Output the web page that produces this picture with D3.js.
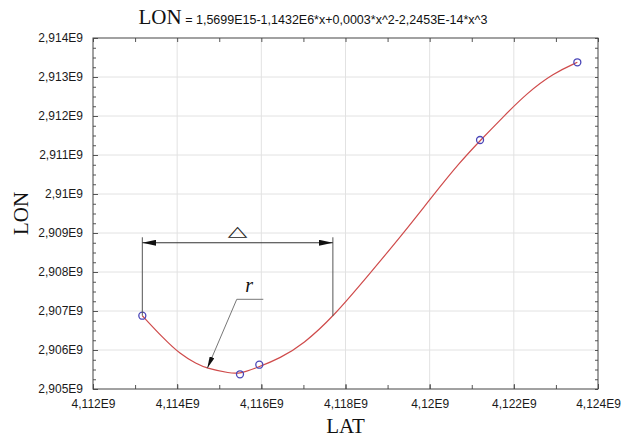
<html>
<head>
<meta charset="utf-8">
<style>
  body { margin: 0; background: #fff; }
</style>
</head>
<body>
<svg id="container" width="622" height="437"></svg>
<script src="https://cdn.jsdelivr.net/npm/d3@7"></script>
<script>
// measured points (LAT, LON)
const pointLat = [4.113172e9, 4.115493e9, 4.115952e9, 4.121197e9, 4.123509e9]
const pointLon = [2.906879e9, 2.905377e9, 2.905623e9, 2.911385e9, 2.913377e9]

// fitted cubic
const fitLat = [4.113172, 4.113671, 4.114067, 4.114464, 4.114702, 4.115256, 4.115493, 4.115928,
                4.116444, 4.116998, 4.117711, 4.118583, 4.119374, 4.120087, 4.120722, 4.121197,
                4.121750, 4.122306, 4.122939, 4.123509].map(v => v * 1e9)
const fitLon = [2.906879, 2.906300, 2.905897, 2.905641, 2.905531, 2.905403, 2.905392, 2.905560,
                2.905790, 2.906150, 2.906854, 2.907967, 2.908992, 2.909974, 2.910820, 2.911367,
                2.911982, 2.912582, 2.913095, 2.913377].map(v => v * 1e9)

// tick labels
const xTicks = [4.112e9, 4.114e9, 4.116e9, 4.118e9, 4.12e9, 4.122e9, 4.124e9]
const yTicks = [2.905e9, 2.906e9, 2.907e9, 2.908e9, 2.909e9, 2.91e9, 2.911e9, 2.912e9, 2.913e9, 2.914e9]

const titleLeft = "LON"
const titleRight = " = 1,5699E15-1,1432E6*x+0,0003*x^2-2,2453E-14*x^3"

// annotation: delta span and leader for r
const deltaLat = [4.113172e9, 4.1177e9]
const deltaLevel = 2.90875e9
const deltaTop = 2.90889e9
const deltaFoot = [2.906879e9, 2.90687e9]
const leaderLat = [4.116047e9, 4.115416e9, 4.114716e9]
const leaderLon = [2.90730e9, 2.90730e9, 2.90553e9]

const serif = "'Liberation Serif', 'Times New Roman', serif"
const sans = "Arial, 'Liberation Sans', sans-serif"

let svg = d3.select("#container")
let pLeft = 93, pRight = 598, pTop = 38, pBottom = 389

let x = d3.scaleLinear().domain([4.112e9, 4.124e9]).range([pLeft, pRight])
let y = d3.scaleLinear().domain([2.905e9, 2.914e9]).range([pBottom, pTop])

let fmt = v => d3.format(".3~f")(v / 1e9).replace(".", ",") + "E9"

let defs = svg.append("defs")
defs.append("marker").attr("id", "arr")
    .attr("viewBox", "0 0 14 6").attr("refX", 14).attr("refY", 3)
    .attr("markerWidth", 14).attr("markerHeight", 6).attr("markerUnits", "userSpaceOnUse")
    .attr("orient", "auto-start-reverse")
    .append("path").attr("d", "M0,0 L14,3 L0,6 Z").attr("fill", "#111")
defs.append("marker").attr("id", "arrSmall")
    .attr("viewBox", "0 0 12 5").attr("refX", 12).attr("refY", 2.5)
    .attr("markerWidth", 12).attr("markerHeight", 5).attr("markerUnits", "userSpaceOnUse")
    .attr("orient", "auto")
    .append("path").attr("d", "M0,0 L12,2.5 L0,5 Z").attr("fill", "#111")

// grid
svg.append("g").selectAll("line").data(xTicks.slice(1, -1)).enter().append("line")
    .attr("x1", d => x(d)).attr("x2", d => x(d)).attr("y1", pTop).attr("y2", pBottom)
    .attr("stroke", "#e2e2e2")
svg.append("g").selectAll("line").data(yTicks.slice(1, -1)).enter().append("line")
    .attr("y1", d => y(d)).attr("y2", d => y(d)).attr("x1", pLeft).attr("x2", pRight)
    .attr("stroke", "#e2e2e2")

// axes, ticks inward on all four sides
let xMinor = d3.range(0, 13).map(i => 4.112e9 + i * 1e6)
let yMinor = d3.range(0, 37).map(i => 2.905e9 + i * 0.25e6)

function styleAxis(g) {
    g.select(".domain").remove()
    g.selectAll("line").attr("stroke", "#555")
    g.selectAll("text").attr("fill", "#1a1a1a")
        .style("font-family", sans).style("font-size", "12px")
}

svg.append("g").attr("transform", `translate(0,${pBottom})`)
    .call(d3.axisBottom(x).tickValues(xMinor).tickSize(-4).tickFormat("")).call(styleAxis)
svg.append("g").attr("transform", `translate(0,${pBottom})`)
    .call(d3.axisBottom(x).tickValues(xTicks).tickSizeInner(-5).tickSizeOuter(0).tickPadding(10).tickFormat(fmt))
    .call(styleAxis)
svg.append("g").attr("transform", `translate(0,${pTop})`)
    .call(d3.axisTop(x).tickValues(xMinor).tickSize(-4).tickFormat("")).call(styleAxis)

svg.append("g").attr("transform", `translate(${pLeft},0)`)
    .call(d3.axisLeft(y).tickValues(yMinor).tickSize(-3).tickFormat("")).call(styleAxis)
svg.append("g").attr("transform", `translate(${pLeft},0)`)
    .call(d3.axisLeft(y).tickValues(yTicks).tickSizeInner(-5).tickSizeOuter(0).tickPadding(10).tickFormat(fmt))
    .call(styleAxis)
svg.append("g").attr("transform", `translate(${pRight},0)`)
    .call(d3.axisRight(y).tickValues(yMinor).tickSize(-3).tickFormat("")).call(styleAxis)

svg.append("rect").attr("x", pLeft).attr("y", pTop)
    .attr("width", pRight - pLeft).attr("height", pBottom - pTop)
    .attr("fill", "none").attr("stroke", "#444")

// fitted curve
let fit = fitLat.map((d, i) => [d, fitLon[i]])
let line = d3.line().x(d => x(d[0])).y(d => y(d[1])).curve(d3.curveBasis)
svg.append("path").datum(fit).attr("d", line)
    .attr("fill", "none").attr("stroke", "#cf4b4b").attr("stroke-width", 1.2)

// points
let pts = pointLat.map((d, i) => [d, pointLon[i]])
svg.append("g").selectAll("circle").data(pts).enter().append("circle")
    .attr("cx", d => x(d[0])).attr("cy", d => y(d[1])).attr("r", 3.5)
    .attr("fill", "none").attr("stroke", "#4a46b8").attr("stroke-width", 1.3)

// delta dimension
let ann = svg.append("g")
deltaLat.forEach((d, i) => {
    ann.append("line").attr("x1", x(d)).attr("x2", x(d))
        .attr("y1", y(deltaTop)).attr("y2", y(deltaFoot[i]))
        .attr("stroke", "#555")
})
ann.append("line").attr("x1", x(deltaLat[0])).attr("x2", x(deltaLat[1]))
    .attr("y1", y(deltaLevel)).attr("y2", y(deltaLevel))
    .attr("stroke", "#333").attr("stroke-width", 1.1)
    .attr("marker-start", "url(#arr)").attr("marker-end", "url(#arr)")
ann.append("text").text("△")
    .attr("transform", `translate(${(x(deltaLat[0]) + x(deltaLat[1])) / 2},${y(deltaLevel) - 7}) scale(1.5,0.85)`)
    .attr("text-anchor", "middle").attr("fill", "#222")
    .style("font-family", "'DejaVu Sans'").style("font-size", "17px")

// leader for r
ann.append("path")
    .attr("d", d3.line()(leaderLat.map((d, i) => [x(d), y(leaderLon[i])])))
    .attr("fill", "none").attr("stroke", "#777").attr("stroke-width", 1)
    .attr("marker-end", "url(#arrSmall)")
ann.append("text").text("r")
    .attr("x", (x(leaderLat[0]) + x(leaderLat[1])) / 2 - 1).attr("y", y(leaderLon[0]) - 7)
    .attr("text-anchor", "middle").attr("fill", "#111")
    .style("font-family", serif).style("font-size", "20px").style("font-style", "italic")

// title
let title = svg.append("text").attr("y", 24).attr("fill", "#111")
title.append("tspan").text(titleLeft)
    .style("font-family", serif).style("font-size", "21px")
title.append("tspan").text(titleRight)
    .style("font-family", sans).style("font-size", "12.5px")
let tw = title.node().getComputedTextLength()
title.attr("x", 313 - tw / 2)

// axis titles
svg.append("text").text("LAT")
    .attr("x", (pLeft + pRight) / 2).attr("y", 433).attr("text-anchor", "middle").attr("fill", "#111")
    .style("font-family", serif).style("font-size", "21px")
svg.append("text").text("LON")
    .attr("transform", `translate(28,${(pTop + pBottom) / 2}) rotate(-90)`).attr("text-anchor", "middle")
    .attr("fill", "#111")
    .style("font-family", serif).style("font-size", "21px")
</script>
</body>
</html>
